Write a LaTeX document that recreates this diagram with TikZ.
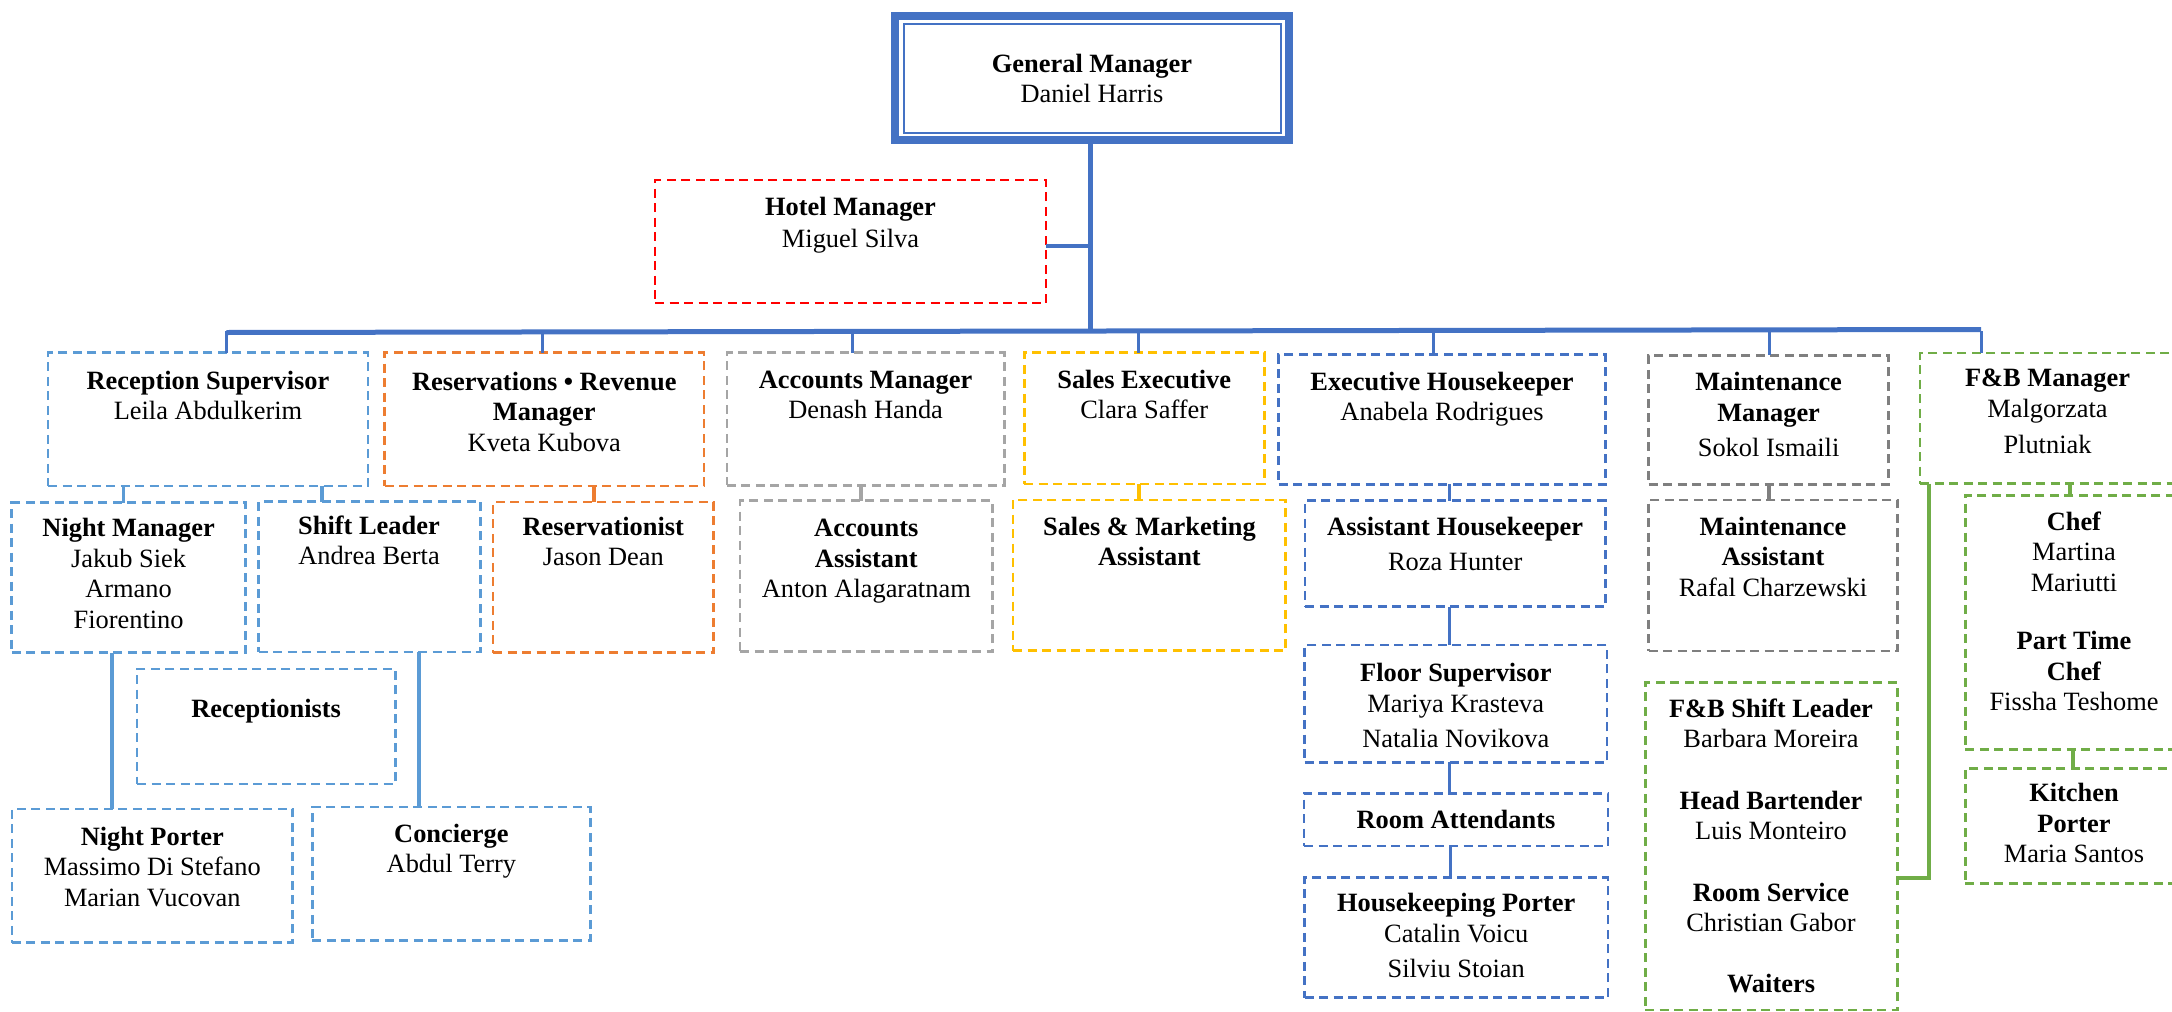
\documentclass[tikz,border=0pt]{standalone}
\usepackage{fontspec}
\setmainfont{Liberation Serif}
\definecolor{dblue}{HTML}{4472C4}
\definecolor{lblue}{HTML}{5B9BD5}
\definecolor{orng}{HTML}{ED7D31}
\definecolor{lgray}{HTML}{A5A5A5}
\definecolor{dgray}{HTML}{7F7F7F}
\definecolor{gold}{HTML}{FFC000}
\definecolor{grn}{HTML}{70AD47}
\definecolor{hred}{HTML}{FF0000}
\tikzset{
  orgbox/.style={draw, rectangle, inner sep=0pt, outer sep=0pt, line width=2.75pt, dash pattern=on 9pt off 5.5pt},
  txt/.style={inner sep=0pt, outer sep=0pt, anchor=base, font=\fontsize{26.4}{30.5}\selectfont},
  conn/.style={line width=3.5pt},
  thickconn/.style={line width=4pt},
  busline/.style={dblue, line width=5pt},
}
\newcommand\obox[6]{\node[orgbox,#2,minimum width={#5-#3},minimum height={#6-#4}] (#1) at ({(#3+#5)/2},{(#4+#6)/2}) {};}
\newcommand\otext[4]{\node[txt] (#1) at (#2,#3) {\begin{tabular}[t]{@{}c@{}}#4\end{tabular}};}
\begin{document}
\begin{tikzpicture}[x=1pt,y=-1pt]
\useasboundingbox (0,0) rectangle (2172,1012);
\clip (0,0) rectangle (2172,1012);

% General Manager
\node[draw=dblue, line width=8pt, rectangle, inner sep=0pt, outer sep=0pt, minimum width=394, minimum height=124] (gm) at (1092,78) {};
\draw[dblue, line width=2pt] ([shift={(8.5,7.5)}]gm.north west) rectangle ([shift={(-8.5,-7.5)}]gm.south east);
\otext{gmT}{1092}{72}{\textbf{General Manager}\\Daniel Harris}

% Hotel Manager
\obox{hm}{hred}{655}{180}{1046}{303}
\otext{hmT}{850.5}{215}{\textbf{Hotel Manager}\\[1.5pt]Miguel Silva}

% Row 1
\obox{rs}{lblue}{48}{352.7}{368}{486}
\otext{rsT}{208}{389}{\textbf{Reception Supervisor}\\Leila Abdulkerim}
\obox{rv}{orng}{384.6}{352.7}{704}{486}
\otext{rvT}{544.3}{390}{\textbf{Reservations • Revenue}\\\textbf{Manager}\\Kveta Kubova}
\obox{am}{lgray}{726.9}{352.7}{1004.3}{485.3}
\otext{amT}{865.6}{388}{\textbf{Accounts Manager}\\Denash Handa}
\obox{se}{gold}{1024.2}{352.7}{1264.2}{484}
\otext{seT}{1144.2}{388}{\textbf{Sales Executive}\\Clara Saffer}
\obox{eh}{dblue}{1278.7}{354.7}{1605.4}{484.3}
\otext{ehT}{1442}{390}{\textbf{Executive Housekeeper}\\Anabela Rodrigues}
\obox{mm}{dgray}{1648.6}{355.3}{1888.6}{484.3}
\otext{mmT}{1768.6}{390}{\textbf{Maintenance}\\[1pt]\textbf{Manager}\\[4.5pt]Sokol Ismaili}
\obox{fb}{grn}{1920}{353}{2175}{483.5}
\otext{fbT}{2047.5}{386.7}{\textbf{F\&B Manager}\\Malgorzata\\[5.5pt]Plutniak}

% Row 2
\obox{nm}{lblue}{11.8}{502.7}{245.4}{652.7}
\otext{nmT}{128.6}{536.7}{\textbf{Night Manager}\\Jakub Siek\\Armano\\Fiorentino}
\obox{sl}{lblue}{258.6}{501.7}{480.4}{652}
\otext{slT}{369}{534}{\textbf{Shift Leader}\\Andrea Berta}
\obox{rn}{orng}{493}{502}{713.5}{652.7}
\otext{rnT}{603.3}{535}{\textbf{Reservationist}\\Jason Dean}
\obox{aa}{lgray}{740}{500.7}{992.5}{651.7}
\otext{aaT}{866.3}{536.7}{\textbf{Accounts}\\\textbf{Assistant}\\Anton Alagaratnam}
\obox{sm}{gold}{1013}{500}{1285.6}{650.7}
\otext{smT}{1149.4}{535}{\textbf{Sales \& Marketing}\\\textbf{Assistant}}
\obox{ah}{dblue}{1305}{500.7}{1605.4}{606.7}
\otext{ahT}{1455.2}{535}{\textbf{Assistant Housekeeper}\\[5pt]Roza Hunter}
\obox{ma}{dgray}{1648.6}{500}{1897.5}{651}
\otext{maT}{1773}{535}{\textbf{Maintenance}\\\textbf{Assistant}\\Rafal Charzewski}
\obox{ch}{grn}{1965.4}{495.7}{2182.6}{749.3}
\otext{chT}{2074}{530}{\textbf{Chef}\\Martina\\Mariutti\\[28pt]\textbf{Part Time}\\\textbf{Chef}\\Fissha Teshome}

% Row 3
\obox{rc}{lblue}{137}{669}{395.4}{784}
\otext{rcT}{266.2}{717}{\textbf{Receptionists}}
\obox{fs}{dblue}{1304.5}{645}{1607}{762.3}
\otext{fsT}{1455.8}{681.7}{\textbf{Floor Supervisor}\\Mariya Krasteva\\[4.5pt]Natalia Novikova}
\obox{fl}{grn}{1645.2}{682.7}{1897.2}{1010}
\otext{flT}{1771}{717.3}{\textbf{F\&B Shift Leader}\\Barbara Moreira\\[31pt]\textbf{Head Bartender}\\Luis Monteiro\\[31pt]\textbf{Room Service}\\Christian Gabor\\[30.5pt]\textbf{Waiters}}
\obox{kp}{grn}{1965.4}{768.3}{2182.6}{883.3}
\otext{kpT}{2074}{801.7}{\textbf{Kitchen}\\\textbf{Porter}\\Maria Santos}

% Row 4
\obox{np}{lblue}{11.9}{809}{292.6}{942.7}
\otext{npT}{152.3}{845}{\textbf{Night Porter}\\Massimo Di Stefano\\Marian Vucovan}
\obox{cc}{lblue}{312.4}{807}{590.4}{940.7}
\otext{ccT}{451.4}{842}{\textbf{Concierge}\\Abdul Terry}
\obox{ra}{dblue}{1304}{793.3}{1608}{846}
\otext{raT}{1456}{828.3}{\textbf{Room Attendants}}
\obox{hp}{dblue}{1304.5}{877.3}{1608}{997.7}
\otext{hpT}{1456.2}{911.7}{\textbf{Housekeeping Porter}\\[0.5pt]Catalin Voicu\\[4pt]Silviu Stoian}

% Trunk and bus
\coordinate (busL) at (226.5,332.5);
\coordinate (busR) at (1981,329.5);
\draw[busline] (1090,0 |- gm.south) -- (1090,331);
\draw[dblue, conn] (hm.east |- 0,246) -- (1090,246);
\draw[busline] (busL) -- (busR);
\draw[dblue, line width=3pt] (226.5,331) -- (226.5,0 |- rs.north);
\draw[dblue, line width=3pt] (542.7,331) -- (542.7,0 |- rv.north);
\draw[dblue, line width=3pt] (852.8,331) -- (852.8,0 |- am.north);
\draw[dblue, line width=3pt] (1138.3,331) -- (1138.3,0 |- se.north);
\draw[dblue, line width=3pt] (1433.6,331) -- (1433.6,0 |- eh.north);
\draw[dblue, line width=3pt] (1769,331) -- (1769,0 |- mm.north);
\draw[dblue, line width=3pt] (1981,331) -- (1981,0 |- fb.north);

% Reception
\draw[lblue, conn] (123.6,0 |- rs.south) -- (123.6,0 |- nm.north);
\draw[lblue, conn] (322,0 |- rs.south) -- (322,0 |- sl.north);
\draw[lblue, thickconn] (112.3,0 |- nm.south) -- (112.3,0 |- np.north);
\draw[lblue, thickconn] (418.5,0 |- sl.south) -- (418.5,0 |- cc.north);
% Reservations
\draw[orng, thickconn] (593.7,0 |- rv.south) -- (593.7,0 |- rn.north);
% Accounts
\draw[lgray, thickconn] (860.8,0 |- am.south) -- (860.8,0 |- aa.north);
% Sales
\draw[gold, thickconn] (1139,0 |- se.south) -- (1139,0 |- sm.north);
% Housekeeping
\draw[dblue, conn] (1449.5,0 |- eh.south) -- (1449.5,0 |- ah.north);
\draw[dblue, conn] (1449.5,0 |- ah.south) -- (1449.5,0 |- fs.north);
\draw[dblue, conn] (1449.5,0 |- fs.south) -- (1449.5,0 |- ra.north);
\draw[dblue, conn] (1450.6,0 |- ra.south) -- (1450.6,0 |- hp.north);
% Maintenance
\draw[dgray, thickconn] (1769,0 |- mm.south) -- (1769,0 |- ma.north);
% F&B
\draw[grn, thickconn] (1928.5,0 |- fb.south) -- (1928.5,878.3) -- (fl.east |- 0,878.3);
\draw[grn, thickconn] (2069.5,0 |- fb.south) -- (2069.5,0 |- ch.north);
\draw[grn, thickconn] (2072.5,0 |- ch.south) -- (2072.5,0 |- kp.north);
\end{tikzpicture}
\end{document}
